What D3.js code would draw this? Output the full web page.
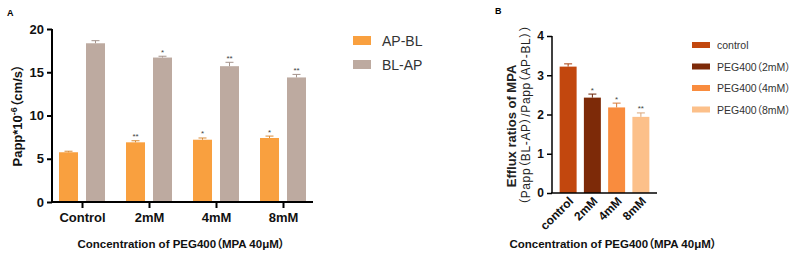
<!DOCTYPE html>
<html><head><meta charset="utf-8">
<script src="https://cdn.jsdelivr.net/npm/d3@7/dist/d3.min.js"></script>
<style>body{margin:0;background:#fff}svg{display:block;font-family:"Liberation Sans","Noto Sans CJK SC",Arial,sans-serif}
.p{font-feature-settings:"palt" 1;}</style>
</head><body><svg id="c" width="793" height="256"></svg>
<script>
// ---- Data: chart A ----
const catsA = ["Control","2mM","4mM","8mM"];
const seriesA = ["AP-BL","BL-AP"];
const apbl = [5.75, 6.9, 7.2, 7.4];
const apblErr = [0.12, 0.18, 0.2, 0.22];
const blap = [18.35, 16.7, 15.7, 14.4];
const blapErr = [0.3, 0.15, 0.45, 0.35];
const apblStars = ["", "**", "*", "*"];
const blapStars = ["", "*", "**", "**"];
const ticksA = [0,5,10,15,20];
// ---- Data: chart B ----
const catsB = ["control","2mM","4mM","8mM"];
const legendB = ["control","PEG400（2mM）","PEG400（4mM）","PEG400（8mM）"];
const ratio = [3.22, 2.43, 2.18, 1.94];
const ratioErr = [0.07, 0.09, 0.11, 0.1];
const ratioStars = ["", "*", "*", "**"];
const ticksB = [0,1,2,3,4];

const colA = ["#F9A03F","#BDAAA0"];
const colB = ["#C2470E","#7D2A08","#F98C3E","#FCC08A"];

const svg = d3.select("#c");

// ================= Chart A =================
const xA = d3.scaleBand().domain(catsA).range([49,317]);
const x1 = d3.scaleBand().domain(seriesA).range([10,56]).paddingInner(0.296);
const yA = d3.scaleLinear().domain([0,20]).range([202,29]);
const gA = svg.append("g");

const dataA = [];
catsA.forEach((c,i)=>{
  dataA.push({c, s:"AP-BL", v:apbl[i], e:apblErr[i], st:apblStars[i], col:colA[0]});
  dataA.push({c, s:"BL-AP", v:blap[i], e:blapErr[i], st:blapStars[i], col:colA[1]});
});
const bA = gA.selectAll("g.b").data(dataA).join("g");
bA.append("rect")
  .attr("x", d=>xA(d.c)+x1(d.s)).attr("width", x1.bandwidth())
  .attr("y", d=>yA(d.v)).attr("height", d=>yA(0)-yA(d.v)).attr("fill", d=>d.col);
bA.append("line")
  .attr("x1", d=>xA(d.c)+x1(d.s)+x1.bandwidth()/2).attr("x2", d=>xA(d.c)+x1(d.s)+x1.bandwidth()/2)
  .attr("y1", d=>yA(d.v)).attr("y2", d=>yA(d.v+d.e)).attr("stroke", d=>d3.color(d.col).darker(0.4)).attr("stroke-width",1);
bA.append("line")
  .attr("x1", d=>xA(d.c)+x1(d.s)+x1.bandwidth()/2-4).attr("x2", d=>xA(d.c)+x1(d.s)+x1.bandwidth()/2+4)
  .attr("y1", d=>yA(d.v+d.e)).attr("y2", d=>yA(d.v+d.e)).attr("stroke", d=>d3.color(d.col).darker(0.4)).attr("stroke-width",1);
bA.append("text")
  .attr("x", d=>xA(d.c)+x1(d.s)+x1.bandwidth()/2).attr("y", d=>yA(d.v+d.e)-1.5)
  .attr("text-anchor","middle").attr("font-size",8).attr("fill","#444").text(d=>d.st);

// axes A
const axYA = d3.axisLeft(yA).tickValues(ticksA).tickFormat(d3.format("d")).tickSize(5).tickPadding(3).tickSizeOuter(0);
const gyA = gA.append("g").attr("transform","translate(52,0)").call(axYA);
gyA.select(".domain").attr("stroke-width",2).attr("d","M0,"+(yA(0)+1)+"V"+yA(20));
gyA.selectAll(".tick line").attr("stroke-width",2);
gyA.selectAll("text").attr("font-size",13).attr("font-weight","bold").attr("fill","#111");
const axXA = d3.axisBottom(xA).tickSize(6).tickPadding(5).tickSizeOuter(0);
const gxA = gA.append("g").attr("transform","translate(0,202)").call(axXA);
gxA.select(".domain").attr("stroke-width",2).attr("d","M51,0H313");
gxA.selectAll(".tick line").attr("stroke-width",2);
gxA.selectAll("text").attr("font-size",13).attr("font-weight","bold").attr("fill","#111");

// y title A
const tA = gA.append("text").attr("class","p").attr("transform","translate(22,"+((yA(0)+yA(20))/2)+") rotate(-90)")
  .attr("text-anchor","middle").attr("font-size",13).attr("font-weight","bold").attr("fill","#111");
tA.append("tspan").text("Papp*10");
tA.append("tspan").attr("font-size",9).attr("dy",-5).text("-6");
tA.append("tspan").attr("dy",5).text("（cm/s）");
// x title A
gA.append("text").attr("class","p").attr("x",181).attr("y",248).attr("text-anchor","middle")
  .attr("font-size",11.5).attr("font-weight","bold").attr("fill","#111")
  .text("Concentration of PEG400（MPA 40μM）");
gA.append("text").attr("x",7).attr("y",16).attr("font-size",9).attr("font-weight","bold").text("A");

// legend A
seriesA.forEach((s,i)=>{
  const y0 = 36 + i*24;
  gA.append("rect").attr("x",353).attr("y",y0).attr("width",18).attr("height",9).attr("fill",colA[i]);
  gA.append("text").attr("x",382).attr("y",y0+10).attr("font-size",14).attr("fill","#333").text(s);
});

// ================= Chart B =================
const xB = d3.scaleBand().domain(catsB).range([556,653]).paddingInner(0.3).paddingOuter(0.15);
const yB = d3.scaleLinear().domain([0,4]).range([193,36]);
const gB = svg.append("g");
const dataB = catsB.map((c,i)=>({c, v:ratio[i], e:ratioErr[i], st:ratioStars[i], col:colB[i]}));
const bB = gB.selectAll("g.b").data(dataB).join("g");
bB.append("rect").attr("x", d=>xB(d.c)).attr("width", xB.bandwidth())
  .attr("y", d=>yB(d.v)).attr("height", d=>yB(0)-yB(d.v)).attr("fill", d=>d.col);
bB.append("line").attr("x1", d=>xB(d.c)+xB.bandwidth()/2).attr("x2", d=>xB(d.c)+xB.bandwidth()/2)
  .attr("y1", d=>yB(d.v)).attr("y2", d=>yB(d.v+d.e)).attr("stroke", d=>d3.color(d.col).darker(0.4));
bB.append("line").attr("x1", d=>xB(d.c)+xB.bandwidth()/2-4).attr("x2", d=>xB(d.c)+xB.bandwidth()/2+4)
  .attr("y1", d=>yB(d.v+d.e)).attr("y2", d=>yB(d.v+d.e)).attr("stroke", d=>d3.color(d.col).darker(0.4));
bB.append("text").attr("x", d=>xB(d.c)+xB.bandwidth()/2).attr("y", d=>yB(d.v+d.e)-1.5)
  .attr("text-anchor","middle").attr("font-size",8).attr("fill","#444").text(d=>d.st);

const axYB = d3.axisLeft(yB).tickValues(ticksB).tickFormat(d3.format("d")).tickSize(5).tickPadding(3).tickSizeOuter(0);
const gyB = gB.append("g").attr("transform","translate(552,0)").call(axYB);
gyB.select(".domain").attr("stroke-width",1.5).attr("d","M0,"+yB(0)+"V"+yB(4));
gyB.selectAll(".tick line").attr("stroke-width",1.5);
gyB.selectAll("text").attr("font-size",12).attr("font-weight","bold").attr("fill","#111");
const axXB = d3.axisBottom(xB).tickSize(0).tickPadding(0).tickSizeOuter(0);
const gxB = gB.append("g").attr("transform","translate(0,193)").call(axXB);
gxB.select(".domain").attr("stroke-width",1.5).attr("d","M551,0H657");
gxB.selectAll("text").attr("font-size",12).attr("font-weight","bold").attr("fill","#111")
  .attr("text-anchor","end").attr("dy",0).attr("transform","translate(6,9) rotate(-45)");

gB.append("text").attr("transform","translate(516,126) rotate(-90)").attr("text-anchor","middle")
  .attr("font-size",13).attr("font-weight","bold").attr("fill","#222").text("Efflux ratios of MPA");
gB.append("text").attr("class","p").attr("transform","translate(530,115) rotate(-90)").attr("text-anchor","middle")
  .attr("font-size",12).attr("fill","#222").attr("textLength",180).attr("lengthAdjust","spacing")
  .text("（Papp（BL-AP）/Papp（AP-BL））");
gB.append("text").attr("class","p").attr("x",613).attr("y",248).attr("text-anchor","middle")
  .attr("font-size",11.5).attr("font-weight","bold").attr("fill","#111")
  .text("Concentration of PEG400（MPA 40μM）");
gB.append("text").attr("x",495).attr("y",14).attr("font-size",9).attr("font-weight","bold").text("B");

legendB.forEach((s,i)=>{
  const yc = 45 + i*21.5;
  gB.append("rect").attr("x",692).attr("y",yc-3).attr("width",18).attr("height",6).attr("fill",colB[i]);
  gB.append("text").attr("class","p").attr("x",717).attr("y",yc+4).attr("font-size",10.5).attr("fill","#333").text(s);
});
</script></body></html>
